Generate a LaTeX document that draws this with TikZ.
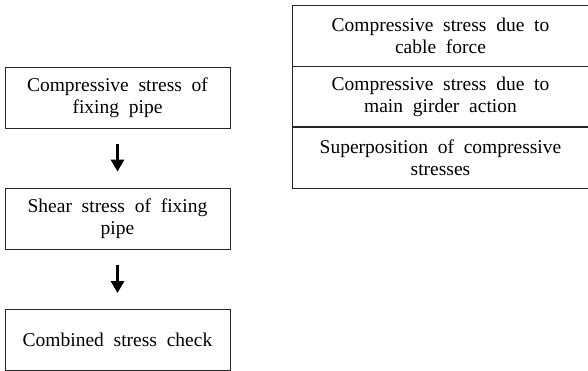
\documentclass[tikz,border=0pt]{standalone}
\usepackage{fontspec}
\setmainfont{Liberation Serif}
\usetikzlibrary{arrows.meta}
\begin{document}
\begin{tikzpicture}[x=1pt,y=1pt,
  every node/.style={font=\fontsize{19.5}{22}\selectfont, align=center, inner sep=0pt},
  stepbox/.style={draw=black!85, line width=0.9pt, minimum width=225pt, minimum height=61pt},
  rowcell/.style={minimum width=295pt, minimum height=61pt},
  flowarrow/.style={line width=3pt, -{Triangle[width=13pt,length=12pt]}, shorten <=16pt, shorten >=16pt}]
\useasboundingbox (0,0) rectangle (588,-371);
\fill[white] (0,0) rectangle (588,-371);
% left flow
\node[stepbox] (b1) at (117.5,-97.5) {Compressive\ \ stress\ \ of\\fixing\ \ pipe};
\node[stepbox] (b2) at (117.5,-218.5) {Shear\ \ stress\ \ of\ \ fixing\\pipe};
\node[stepbox] (b3) at (117.5,-340) {Combined\ \ stress\ \ check};
\draw[flowarrow] (b1.south) -- (b2.north);
\draw[flowarrow] (b2.south) -- (b3.north);
% right table
\node[rowcell] (r1) at (440.5,-36) {Compressive\ \ stress\ \ due\ \ to\\cable\ \ force};
\node[rowcell] (r2) at (440.5,-97) {Compressive\ \ stress\ \ due\ \ to\\main\ \ girder\ \ action};
\node[rowcell] (r3) at (440.5,-157.5) {Superposition\ \ of\ \ compressive\\stresses};
\foreach \r in {r1,r2,r3}
  \draw[black!85, line width=0.9pt] (\r.north east) -- (\r.north west) -- (\r.south west) -- (\r.south east);
\end{tikzpicture}
\end{document}
